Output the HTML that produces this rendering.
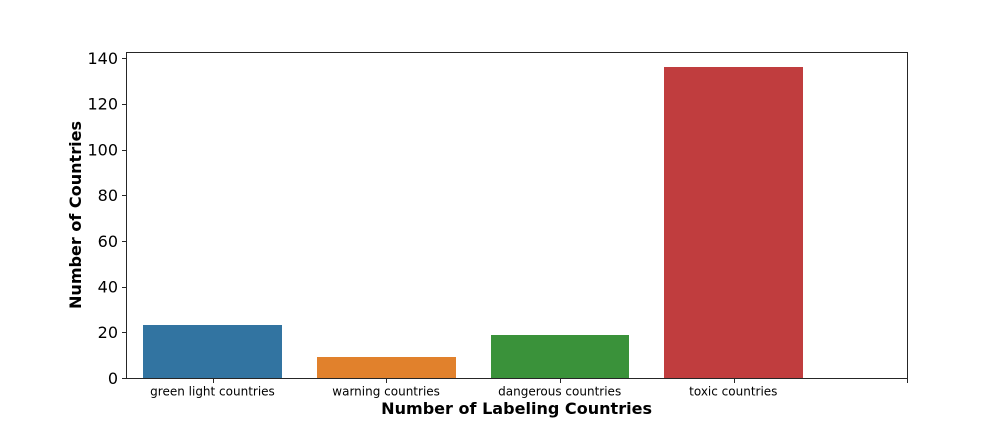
<!DOCTYPE html>
<html>
<head>
<meta charset="utf-8">
<style>
html,body{margin:0;padding:0;background:#fff;width:1008px;height:432px;overflow:hidden}
svg{display:block}
text{font-family:"DejaVu Sans",sans-serif;fill:#000}
</style>
</head>
<body>
<svg id="chart" width="1008" height="432" viewBox="0 0 1008 432" xmlns="http://www.w3.org/2000/svg"></svg>
<script>
const categories = ["green light countries", "warning countries", "dangerous countries", "toxic countries"];
const values = [23, 9, 19, 136];
const barColors = ["#3274a1", "#e1812c", "#3a923a", "#c03d3e"];
const yTicks = [0, 20, 40, 60, 80, 100, 120, 140];
const xTickExtra = [""];
const xAxisTitle = "Number of Labeling Countries";
const yAxisTitle = "Number of Countries";

const svgNS = "http://www.w3.org/2000/svg";
const svg = document.getElementById("chart");
const L = 126, R = 907.2, T = 51.84, B = 378;
const xMin = -0.5, xMax = 4;
const yMax = 142.8;
function xScale(i){ return L + (i - xMin) / (xMax - xMin) * (R - L); }
function yScale(v){ return B - v / yMax * (B - T); }
const barWidthUnits = 0.8;
function make(tag, attrs, parent){
  const el = document.createElementNS(svgNS, tag);
  for (const k in attrs) el.setAttribute(k, attrs[k]);
  (parent || svg).appendChild(el);
  return el;
}

categories.forEach(function(cat, i){
  const x0 = Math.round(xScale(i - barWidthUnits / 2)), x1 = Math.round(xScale(i + barWidthUnits / 2));
  const top = Math.round(yScale(values[i]));
  const bar = make("rect", {x: x0, y: top, width: x1 - x0, height: B - top, fill: barColors[i]});
  
  
});

const frame = make("rect", {x: 126.5, y: 52.5, width: 781, height: 326, fill: "none", stroke: "#262626", "stroke-width": 1});



yTicks.forEach(function(v){
  const y = Math.round(yScale(v)) + 0.5;
  const tick = make("line", {x1: 122, x2: 126, y1: y, y2: y, stroke: "#262626", "stroke-width": 1});
  
  
  const label = make("text", {x: 118, y: yScale(v) + 5.8, "text-anchor": "end", "font-size": 16});
  
  
  label.textContent = v;
});

categories.concat(xTickExtra).forEach(function(cat, i){
  const x = Math.round(xScale(i)) + 0.5;
  const tick = make("line", {x1: x, x2: x, y1: 379, y2: 383, stroke: "#262626", "stroke-width": 1});
  
  
  if (cat) {
    const label = make("text", {x: xScale(i) - 0.3, y: 395.5, "text-anchor": "middle", "font-size": 12});
    
    
    label.textContent = cat;
  }
});

const xTitle = make("text", {x: 516.6, y: 414, "text-anchor": "middle", "font-size": 16.05, "font-weight": "bold"});


xTitle.textContent = xAxisTitle;

const yTitle = make("text", {transform: "translate(81,215) rotate(-90)", "text-anchor": "middle", "font-size": 16.05, "font-weight": "bold"});


yTitle.textContent = yAxisTitle;
</script>
</body>
</html>
